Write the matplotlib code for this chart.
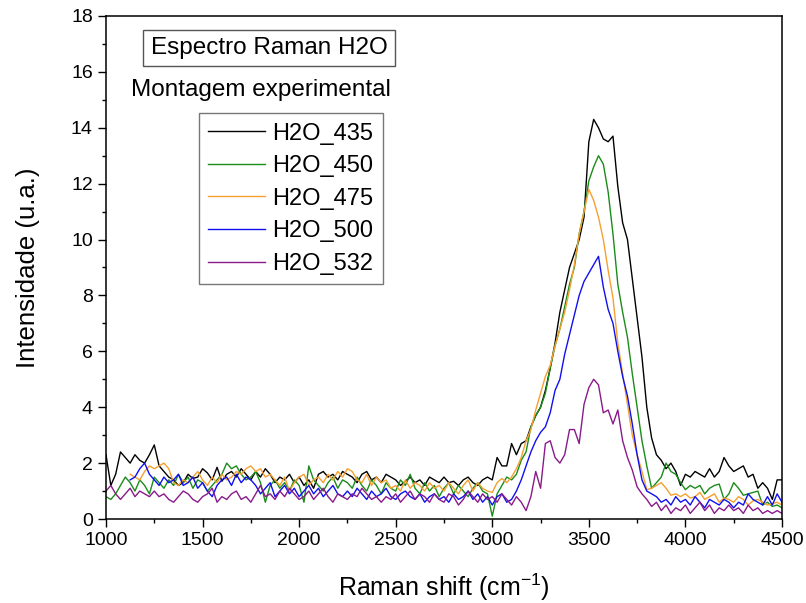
import numpy as np
import matplotlib
matplotlib.use("Agg")
import matplotlib.pyplot as plt
from matplotlib.ticker import MultipleLocator

plt.rcParams['font.family'] = ['Liberation Sans', 'DejaVu Sans']

# Raman shift grid (cm^-1), 25 cm^-1 spacing from 1000 to 4500
raman_shift = np.arange(1000, 4501, 25)

nan = np.nan

h2o_435 = [
    2.3, 1.2, 1.6, 2.4, 2.2, 2.0, 2.3, 2.1, 2.0, 2.3,
    2.65, 1.9, 1.7, 1.5, 1.4, 1.2, 1.3, 1.6, 1.45, 1.5,
    1.8, 1.65, 1.4, 1.85, 1.35, 1.6, 1.7, 1.5, 1.8, 1.6,
    1.4, 1.7, 1.5, 1.8, 1.6, 1.3, 1.5, 1.4, 1.6, 1.3,
    1.5, 1.2, 1.4, 1.1, 1.6, 1.7, 1.5, 1.6, 1.4, 1.7,
    1.6, 1.5, 1.3, 1.6, 1.7, 1.4, 1.5, 1.3, 1.6, 1.5,
    1.4, 1.2, 1.35, 1.5, 1.3, 1.4, 1.2, 1.5, 1.4, 1.3,
    1.5, 1.3, 1.35, 1.2, 1.4, 1.5, 1.3, 1.2, 1.4, 1.5,
    1.4, 2.2, 1.9, 1.9, 2.7, 2.3, 2.7, 2.8, 3.3, 3.7,
    4.0, 4.6, 5.4, 6.3, 7.4, 8.2, 9.0, 9.5, 10.0, 10.8,
    13.5, 14.3, 14.0, 13.6, 13.5, 13.7, 11.9, 10.6, 10.0, 8.6,
    7.2, 5.8, 4.0, 2.9, 2.3, 2.1, 1.8, 2.0, 1.7, 1.2,
    1.6, 1.5, 1.7, 1.6, 1.5, 1.8, 1.5, 1.7, 2.2, 1.9,
    1.7, 1.8, 1.9, 1.5, 1.6, 1.1, 1.3, 1.1, 0.7, 1.4,
    1.4,
]

h2o_450 = [
    0.8, 0.7, 0.9, 1.2, 1.5, 1.3, 1.0, 1.4, 1.2, 0.9,
    1.5, 1.3, 1.1, 1.4, 1.2, 1.6, 1.3, 1.5, 1.1, 1.4,
    1.3, 1.0, 1.2, 1.4, 1.6, 2.0, 1.8, 1.9, 1.6, 1.4,
    1.5, 1.7, 1.3, 0.6, 1.2, 1.4, 1.1, 1.3, 1.0, 1.4,
    1.2, 0.6, 1.9, 1.4, 1.2, 1.0, 1.3, 1.5, 1.1, 1.4,
    1.3, 1.1, 1.5, 1.2, 1.0, 1.4, 1.2, 0.9, 1.3, 1.1,
    1.0, 1.4, 1.2, 1.6, 1.1, 0.9, 1.3, 1.0, 1.2, 0.8,
    1.1, 1.3, 0.9, 1.2, 1.0, 0.8, 1.1, 1.3, 1.0, 0.9,
    0.1, 0.9, 1.2, 1.5, 1.4, 1.6, 2.1, 2.4, 3.3, 3.7,
    4.0, 4.5, 5.4, 6.2, 6.8, 7.6, 8.4, 9.0, 10.2, 11.0,
    12.1, 12.6, 13.0, 12.7, 11.7, 10.2, 8.4, 7.4, 6.5, 5.2,
    4.0, 2.8, 1.9, 1.1, 1.3, 1.5, 2.0, 1.7, 1.6, 1.3,
    1.05, 1.2, 1.1, 1.2, 0.9, 1.1, 1.2, 1.25, 0.7, 0.9,
    1.3, 1.1, 0.85, 0.9, 0.95, 1.0, 0.5, 0.6, 0.45, 0.5,
    0.4,
]

h2o_475 = [
    nan, nan, nan, nan, nan, 1.6, 1.5, 1.4, 1.7, 1.9,
    1.8, 1.9, 2.0, 1.8, 1.3, 1.2, 1.4, 1.3, 1.5, 1.7,
    1.4, 1.2, 1.5, 1.3, 1.6, 1.4, 1.5, 1.7, 1.6, 1.8,
    1.9, 1.7, 1.8, 1.5, 1.6, 1.4, 1.2, 1.5, 1.0, 1.3,
    1.5, 1.6, 1.2, 1.4, 1.5, 1.3, 1.6, 1.4, 1.7, 1.5,
    1.8, 1.7, 1.4, 1.3, 1.6, 1.2, 1.5, 1.3, 1.4, 1.1,
    1.2, 1.0, 1.4, 1.1, 1.3, 1.2, 1.0, 1.3, 1.1, 1.2,
    1.0, 1.3, 1.1, 0.9, 1.2, 1.4, 1.0, 1.3, 1.1, 1.0,
    0.95, 1.3, 1.45, 1.3, 1.5, 1.8, 2.2, 2.8, 3.2, 3.9,
    4.5, 5.1, 5.5, 6.2, 6.8, 7.4, 8.2, 9.1, 10.2, 11.0,
    11.8, 11.4, 10.8, 10.0, 8.9, 7.9, 6.3, 5.2, 4.1, 3.0,
    2.3, 1.7, 1.05, 1.1, 1.2, 1.3, 1.1, 0.85, 0.9, 0.8,
    0.9, 0.75, 0.8, 0.95, 0.7, 0.8, 0.9, 0.6, 0.75, 0.7,
    0.6, 0.8, 0.7, 0.5, 0.65, 0.7, 0.6, 0.5, 0.55, 0.6,
    0.5,
]

h2o_500 = [
    nan, nan, nan, nan, nan, 1.4, 1.5, 1.8, 2.0, 1.6,
    1.4, 1.2, 1.5, 1.3, 1.4, 1.6, 1.2, 1.3, 1.5, 1.1,
    1.3, 1.0, 0.8, 1.2, 1.4, 1.5, 1.2, 1.6, 1.3, 1.5,
    1.4, 1.2, 0.9, 1.1, 1.3, 0.8, 1.0, 1.2, 0.9, 1.1,
    0.8, 1.0, 1.2, 0.9, 1.1, 0.8, 1.0, 1.2, 0.9, 0.8,
    1.0, 0.8, 1.1, 0.9, 0.7, 1.0, 0.8, 0.9, 1.1, 0.8,
    0.7, 0.9, 1.0, 0.8, 0.7, 0.9, 0.6, 0.8, 0.9, 0.7,
    0.8, 0.6, 0.9, 0.7, 0.8, 1.0, 0.7, 0.9, 0.6, 0.8,
    0.5, 0.8, 0.9, 0.6, 0.7, 1.0, 1.4, 1.9, 2.4, 2.8,
    3.1, 3.3, 3.8, 4.6, 5.0, 5.9, 6.6, 7.3, 8.0, 8.5,
    8.8, 9.1, 9.4, 8.3, 7.5, 7.0, 6.0, 5.1, 4.4, 3.4,
    2.3, 1.4, 1.0, 0.9, 0.8, 0.6, 0.7, 0.5, 0.8, 0.6,
    0.7, 0.5, 0.8, 0.6, 0.4, 0.7, 0.6, 0.5, 0.7, 0.6,
    0.4, 0.6, 0.5, 0.9, 0.7, 0.6, 0.5, 0.8, 0.5, 0.9,
    0.6,
]

h2o_532 = [
    1.0, 1.2, 0.9, 0.7, 0.9, 1.1, 0.8, 1.0, 0.9, 0.8,
    1.0, 0.8, 0.9, 0.7, 0.6, 0.8, 1.0, 0.9, 0.7, 0.6,
    0.8, 0.9, 1.1, 0.6, 0.8, 0.7, 0.9, 1.0, 0.7, 0.8,
    0.6, 0.9, 1.2, 0.8, 0.9, 0.7, 1.0, 0.8, 1.1, 0.9,
    0.7, 0.8, 1.0, 0.7, 0.9, 1.1, 0.8, 0.6, 0.9, 0.8,
    0.7, 0.9, 0.8, 1.1, 0.9, 0.7, 0.8, 0.6, 0.8, 0.7,
    0.9, 0.6, 0.8, 1.0, 0.7, 0.9, 0.8, 0.6, 0.9, 0.7,
    0.6, 0.9, 0.8, 0.5, 0.7, 1.0, 0.8, 0.6, 0.9, 0.7,
    0.8, 0.6, 0.9, 0.7, 0.5, 0.8, 0.6, 0.3, 0.8, 1.7,
    1.1, 2.7, 2.8, 2.2, 2.0, 2.3, 3.2, 3.2, 2.7, 4.1,
    4.7, 5.0, 4.8, 3.8, 3.9, 3.4, 3.9, 2.8, 2.2, 1.75,
    1.15, 0.9, 0.7, 0.45, 0.6, 0.3, 0.5, 0.2, 0.4, 0.3,
    0.5, 0.2, 0.4, 0.6, 0.3, 0.5, 0.2, 0.4, 0.3, 0.5,
    0.3, 0.4, 0.2, 0.5, 0.3, 0.4, 0.2, 0.3, 0.2, 0.3,
    0.2,
]

series_labels = ["H2O_435", "H2O_450", "H2O_475", "H2O_500", "H2O_532"]
series_colors = ["#000000", "#1a8c1a", "#f5a030", "#1010ee", "#8a1a8a"]
series_values = [h2o_435, h2o_450, h2o_475, h2o_500, h2o_532]

fig = plt.figure(figsize=(8.06, 6.03), dpi=100)
ax = fig.add_axes([0.1315, 0.1393, 0.8387, 0.8342])

for vals, lab, col in zip(series_values, series_labels, series_colors):
    ax.plot(raman_shift, vals, color=col, lw=1.0, label=lab)

ax.set_xlim(1000, 4500)
ax.set_ylim(0, 18)
ax.xaxis.set_major_locator(MultipleLocator(500))
ax.xaxis.set_minor_locator(MultipleLocator(250))
ax.yaxis.set_major_locator(MultipleLocator(2))
ax.yaxis.set_minor_locator(MultipleLocator(1))
ax.tick_params(axis='both', which='major', direction='out', length=5.5, width=1.0,
               labelsize=14, pad=4)
ax.tick_params(axis='both', which='minor', direction='out', length=3, width=1.0)
ax.tick_params(top=False, right=False, which='both')
for sp in ax.spines.values():
    sp.set_linewidth(1.1)

ax.set_xlabel("Raman shift (cm$^{\\mathregular{-1}}$)", fontsize=18, labelpad=16)
ax.set_ylabel("Intensidade (u.a.)", fontsize=18.5, labelpad=22)

ax.text(0.241, 0.936, "Espectro Raman H2O", transform=ax.transAxes, fontsize=17.5,
        ha='center', va='center',
        bbox=dict(boxstyle='square,pad=0.3', fc='white', ec='#555555', lw=1.0))
ax.text(0.037, 0.853, "Montagem experimental", transform=ax.transAxes, fontsize=17.5,
        ha='left', va='center')

leg = ax.legend(loc='upper left', bbox_to_anchor=(0.1376, 0.807), fontsize=17,
                frameon=True, fancybox=False, edgecolor='#555555', borderaxespad=0,
                handlelength=2.4, handletextpad=0.3, labelspacing=0.45, borderpad=0.4)
leg.get_frame().set_linewidth(1.0)

fig.savefig("out.png", dpi=100)
